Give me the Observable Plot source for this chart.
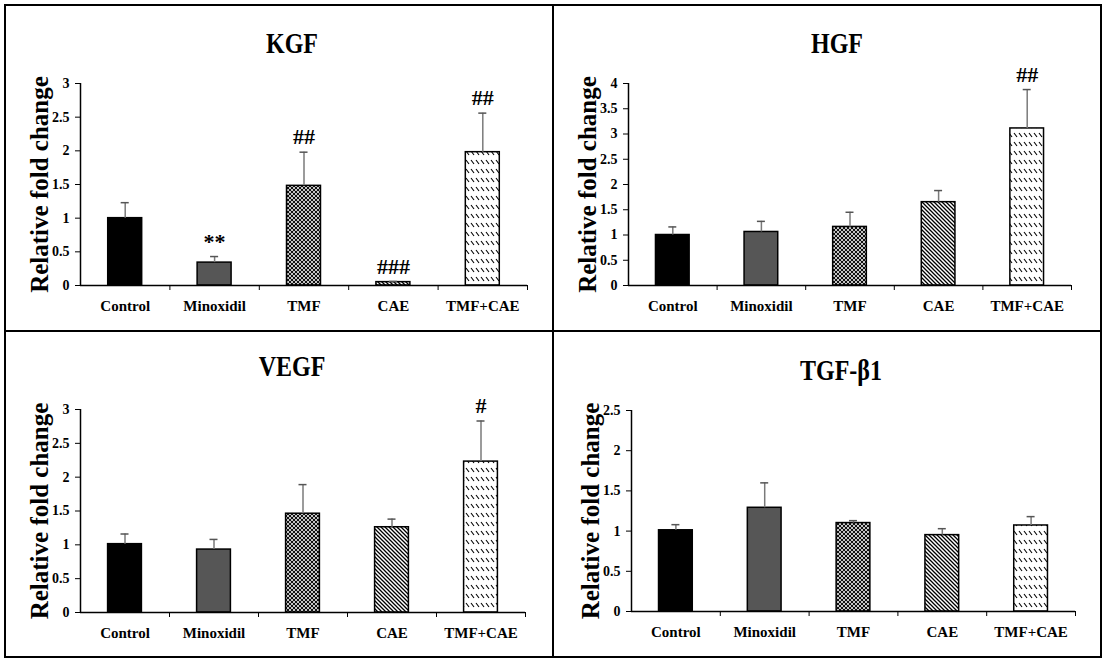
<!DOCTYPE html>
<html><head><meta charset="utf-8">
<script src="https://cdn.jsdelivr.net/npm/d3@7"></script>
<script src="https://cdn.jsdelivr.net/npm/@observablehq/plot@0.6"></script>
<style>
body{margin:0;background:#fff;}
#wrap{position:relative;width:1115px;height:659px;background:#fff;overflow:hidden;font-family:"Liberation Serif","Times New Roman",serif;}
.panel{position:absolute;width:548px;height:326px;}
.panel svg{position:absolute;left:0;top:0;}
.title{position:absolute;width:300px;text-align:center;font-weight:bold;font-size:30px;line-height:30px;transform:scaleX(0.8);color:#000;}
.line{position:absolute;background:#000;}
</style></head>
<body>
<svg width="0" height="0" style="position:absolute">
<defs>
<pattern id="p-tmf" patternUnits="userSpaceOnUse" width="4" height="4"><rect width="4" height="4" fill="#c4c4c4"/><rect width="2" height="2" fill="#111"/><rect x="2" y="2" width="2" height="2" fill="#111"/></pattern>
<pattern id="p-cae" patternUnits="userSpaceOnUse" width="4" height="4"><rect width="4" height="4" fill="#fff"/><path d="M-1,-1L5,5M-1,3L1,5M3,-1L5,1" stroke="#000" stroke-width="1.3"/></pattern>
<pattern id="p-combo" patternUnits="userSpaceOnUse" width="5" height="9"><rect width="5" height="9" fill="#fff"/><path d="M1,2L4,6" stroke="#000" stroke-width="1.1"/></pattern>
</defs></svg>
<div id="wrap">
  <div class="line" style="left:4px;top:4px;width:1098px;height:2px"></div>
  <div class="line" style="left:4px;top:656px;width:1098px;height:2px"></div>
  <div class="line" style="left:4px;top:4px;width:2px;height:654px"></div>
  <div class="line" style="left:1100px;top:4px;width:2px;height:654px"></div>
  <div class="line" style="left:552px;top:4px;width:2px;height:654px"></div>
  <div class="line" style="left:4px;top:330px;width:1098px;height:2px"></div>
</div>
<script>
const categories = ["Control", "Minoxidil", "TMF", "CAE", "TMF+CAE"];

const kgfValues = [1.00, 0.34, 1.48, 0.05, 1.98];
const kgfErrors = [0.23, 0.09, 0.50, 0.01, 0.58];
const kgfMarks  = ["", "**", "##", "###", "##"];

const hgfValues = [1.00, 1.06, 1.16, 1.65, 3.11];
const hgfErrors = [0.16, 0.21, 0.29, 0.23, 0.77];
const hgfMarks  = ["", "", "", "", "##"];

const vegfValues = [1.01, 0.93, 1.46, 1.26, 2.23];
const vegfErrors = [0.15, 0.15, 0.43, 0.12, 0.60];
const vegfMarks  = ["", "", "", "", "#"];

const tgfValues = [1.01, 1.29, 1.10, 0.95, 1.07];
const tgfErrors = [0.07, 0.31, 0.03, 0.08, 0.11];
const tgfMarks  = ["", "", "", "", ""];

const kgfTicks  = [0, 0.5, 1, 1.5, 2, 2.5, 3];
const hgfTicks  = [0, 0.5, 1, 1.5, 2, 2.5, 3, 3.5, 4];
const vegfTicks = [0, 0.5, 1, 1.5, 2, 2.5, 3];
const tgfTicks  = [0, 0.5, 1, 1.5, 2, 2.5];

const titles = ["KGF", "HGF", "VEGF", "TGF-β1"];
const yLabel = "Relative fold change";

const fills = {
  "Control": "#000000",
  "Minoxidil": "#565656",
  "TMF": "url(#p-tmf)",
  "CAE": "url(#p-cae)",
  "TMF+CAE": "url(#p-combo)"
};

const font = "'Liberation Serif','Times New Roman',serif";

const panels = [
  {title: titles[0], values: kgfValues, errors: kgfErrors, marks: kgfMarks, ticks: kgfTicks, left: 5, top: 5, ml: 75, mr: 26, mt: 78, mb: 46, tx: 287, ty: 28},
  {title: titles[1], values: hgfValues, errors: hgfErrors, marks: hgfMarks, ticks: hgfTicks, left: 553, top: 5, ml: 75, mr: 30, mt: 78, mb: 46, tx: 284, ty: 28},
  {title: titles[2], values: vegfValues, errors: vegfErrors, marks: vegfMarks, ticks: vegfTicks, left: 5, top: 331, ml: 75, mr: 28, mt: 78, mb: 45, tx: 287, ty: 25},
  {title: titles[3], values: tgfValues, errors: tgfErrors, marks: tgfMarks, ticks: tgfTicks, left: 553, top: 331, ml: 78, mr: 26, mt: 79, mb: 46, tx: 288, ty: 29}
];

const wrap = document.getElementById("wrap");

for (const p of panels) {
  const data = categories.map((c, i) => ({c, i, v: p.values[i], e: p.errors[i], a: p.marks[i]}));
  const ymax = p.ticks[p.ticks.length - 1];
  const panel = document.createElement("div");
  panel.className = "panel";
  panel.style.left = p.left + "px";
  panel.style.top = p.top + "px";

  const chart = Plot.plot({
    width: 548, height: 326,
    marginLeft: p.ml, marginRight: p.mr, marginTop: p.mt, marginBottom: p.mb,
    x: {type: "linear", domain: [-0.5, categories.length - 0.5], axis: null, label: null},
    y: {domain: [0, ymax], axis: null, label: null},
    color: {type: "identity"},
    style: {fontFamily: font, fontSize: "14px", fontWeight: "bold", color: "#000", background: "transparent", overflow: "visible"},
    marks: [
      Plot.rectY(data, {x1: d => d.i - 0.19, x2: d => d.i + 0.19, y1: 0, y2: "v", fill: d => fills[d.c], stroke: "#000", strokeWidth: 1.5}),
      Plot.ruleX(data, {x: "i", y1: "v", y2: d => d.v + d.e, stroke: "#7a7a7a", strokeWidth: 1.5}),
      Plot.ruleY(data, {y: d => d.v + d.e, x1: d => d.i - 0.045, x2: d => d.i + 0.045, stroke: "#555", strokeWidth: 1.5}),
      Plot.ruleY([0], {stroke: "#000", strokeWidth: 1.5}),
      Plot.ruleX([-0.5], {stroke: "#000", strokeWidth: 1.5}),
      Plot.axisY({ticks: p.ticks, tickSize: 5, tickPadding: 6, tickFormat: d => String(d), fontSize: 14, fontWeight: "bold", label: null}),
      Plot.axisX({ticks: [0.5, 1.5, 2.5, 3.5, 4.5], tickSize: 5, tickFormat: () => "", label: null}),
      Plot.axisX({ticks: [0, 1, 2, 3, 4], tickSize: 0, tickPadding: 15, tickFormat: i => categories[i], fontSize: 15, fontWeight: "bold", label: null}),
      Plot.text([yLabel], {text: d => d, frameAnchor: "left", textAnchor: "middle", lineAnchor: "middle", dx: -41, rotate: -90, fontSize: 25, fontWeight: "bold"}),
      Plot.text(data.filter(d => d.a), {x: "i", y: d => d.v + d.e, text: "a", dy: -15, fontSize: 22, fontWeight: "bold"})
    ]
  });
  panel.appendChild(chart);

  const t = document.createElement("div");
  t.className = "title";
  t.textContent = p.title;
  t.style.left = (p.tx - 150) + "px";
  t.style.top = (p.ty - 5) + "px";
  panel.appendChild(t);

  wrap.appendChild(panel);
}
</script>
</body></html>
